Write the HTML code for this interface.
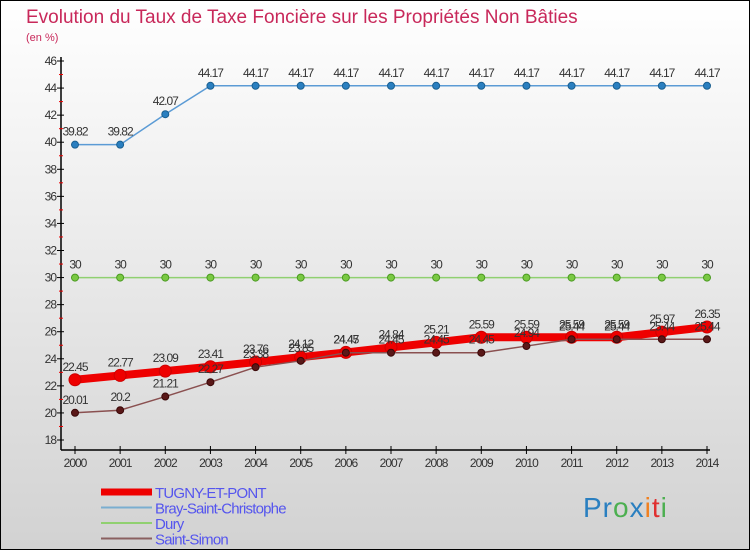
<!DOCTYPE html>
<html><head><meta charset="utf-8"><style>
body{margin:0}
#c{width:750px;height:550px;position:relative;font-family:"Liberation Sans",sans-serif}
</style></head><body>
<div id="c">
<svg id="s" width="750" height="550" xmlns="http://www.w3.org/2000/svg">
<defs><linearGradient id="bg" x1="0" y1="0" x2="0" y2="1"><stop offset="0" stop-color="#ffffff"/><stop offset="1" stop-color="#d2d2d2"/></linearGradient></defs>
<rect x="0.5" y="0.5" width="749" height="549" fill="url(#bg)" stroke="#000"/>
<text x="26" y="23" font-size="19" fill="#c8285a">Evolution du Taux de Taxe Foncière sur les Propriétés Non Bâties</text>
<text x="26" y="41" font-size="11" fill="#c8285a">(en %)</text>
<g id="axes"></g><g id="series"></g><g id="legend"></g>
<text x="583" y="517" font-size="28" letter-spacing="1"><tspan fill="#2a7fc0">Pr</tspan><tspan fill="#4caf50">o</tspan><tspan fill="#2a7fc0">x</tspan><tspan fill="#f08020">i</tspan><tspan fill="#e03030">t</tspan><tspan fill="#4caf50">i</tspan></text>
</svg></div>
<script>
const years=[2000,2001,2002,2003,2004,2005,2006,2007,2008,2009,2010,2011,2012,2013,2014];
const yTicks=[18,20,22,24,26,28,30,32,34,36,38,40,42,44,46];
const tugny=[22.45,22.77,23.09,23.41,23.76,24.12,24.47,24.84,25.21,25.59,25.59,25.59,25.59,25.97,26.35];
const bray=[39.82,39.82,42.07,44.17,44.17,44.17,44.17,44.17,44.17,44.17,44.17,44.17,44.17,44.17,44.17];
const dury=[30,30,30,30,30,30,30,30,30,30,30,30,30,30,30];
const simon=[20.01,20.2,21.21,22.27,23.38,23.85,24.45,24.45,24.45,24.45,24.94,25.44,25.44,25.44,25.44];
const NS="http://www.w3.org/2000/svg";
const X=i=>75+i*(707-75)/(years.length-1);
const Y=v=>61+(46-v)*(440-61)/28;
function mk(tag,a,parent){const e=document.createElementNS(NS,tag);for(const k in a)e.setAttribute(k,a[k]);parent.appendChild(e);return e;}
const ax=document.getElementById('axes');
let l=mk('line',{x1:61,y1:57,x2:61,y2:450,stroke:'#000','stroke-width':1.5},ax);


l=mk('line',{x1:61,y1:450,x2:710,y2:450,stroke:'#000','stroke-width':1.5},ax);


yTicks.forEach(v=>{mk('line',{x1:57,y1:Y(v),x2:64,y2:Y(v),stroke:'#000'},ax);
 if(v<46)mk('line',{x1:59,y1:Y(v+1),x2:63,y2:Y(v+1),stroke:'#e00'},ax);
 const t=mk('text',{x:56,y:Y(v)+4,'font-size':12,'text-anchor':'end',fill:'#333','letter-spacing':'-1'},ax);t.textContent=v;
 
 });
years.forEach((y,i)=>{mk('line',{x1:X(i),y1:446,x2:X(i),y2:454,stroke:'#000'},ax);
 const t=mk('text',{x:X(i),y:467,'font-size':12,'text-anchor':'middle',fill:'#333','letter-spacing':'-1'},ax);t.textContent=y;
 
 });
const sg=document.getElementById('series');
function series(name,vals,color,w,r,dot,dotStroke){
 const g=mk('g',{},sg);
 
 
 mk('polyline',{points:vals.map((v,i)=>X(i)+','+Y(v)).join(' '),fill:'none',stroke:color,'stroke-width':w},g);
 vals.forEach((v,i)=>{const c=mk('circle',{cx:X(i),cy:Y(v),r:r,fill:dot,stroke:dotStroke},g);
  
  
  const t=mk('text',{x:X(i),y:Y(v)-9,'font-size':12,'text-anchor':'middle',fill:'#333','letter-spacing':'-1'},g);t.textContent=String(v);
  
  });
}
series('series-bray',bray,'#5b9bd5',1.5,3.5,'#2a7fc0','#1a5f90');
series('series-dury',dury,'#8fd070',1.5,3.5,'#7ac943','#4a9a20');
series('series-tugny',tugny,'#ee0000',8,6,'#ee0000','#cc0000');
series('series-saint-simon',simon,'#8a5050',1.5,3.5,'#5a1818','#3a0808');
const lg=document.getElementById('legend');
const items=[['TUGNY-ET-PONT','#ee0000',7],['Bray-Saint-Christophe','#7aaed0',2],['Dury','#90d070',2],['Saint-Simon','#8a6060',2]];
items.forEach((it,i)=>{const y=492+i*15.5;const g=mk('g',{},lg);
 
 
 mk('line',{x1:101,y1:y,x2:152,y2:y,stroke:it[1],'stroke-width':it[2]},g);
 const t=mk('text',{x:155,y:y+6,'font-size':15,fill:'#5555ee','letter-spacing':'-0.8'},g);t.textContent=it[0];});
</script>
</body></html>
